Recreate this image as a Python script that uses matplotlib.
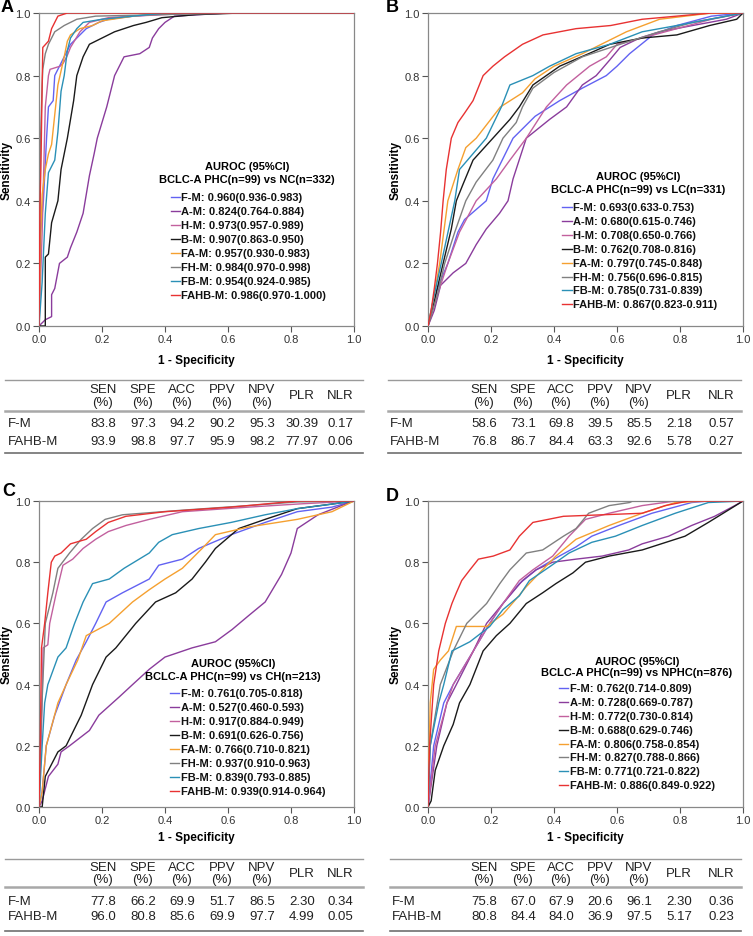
import numpy as np
import matplotlib.pyplot as plt

plt.rcParams['font.family'] = ['Liberation Sans', 'DejaVu Sans']

models = ['F-M', 'A-M', 'H-M', 'B-M', 'FA-M', 'FH-M', 'FB-M', 'FAHB-M']
colors = ['#6262f2', '#8a3c9c', '#c2609e', '#1a1a1a', '#f5a030', '#808080', '#2a90b6', '#e83232']

# ROC points (1 - specificity, sensitivity)
a_fm = [(0, 0), (0.005, 0.3), (0.014, 0.4), (0.024, 0.6), (0.03, 0.7), (0.045, 0.72), (0.05, 0.8), (0.07, 0.84),
        (0.09, 0.88), (0.1, 0.9), (0.13, 0.93), (0.15, 0.95), (0.19, 0.97), (0.22, 0.98), (0.3, 0.99), (0.45, 1), (1, 1)]
a_am = [(0, 0), (0.01, 0.01), (0.02, 0.02), (0.04, 0.03), (0.04, 0.1), (0.05, 0.12), (0.065, 0.2), (0.09, 0.22),
        (0.1, 0.25), (0.12, 0.3), (0.14, 0.36), (0.15, 0.42), (0.16, 0.48), (0.175, 0.55), (0.185, 0.6), (0.2, 0.65),
        (0.215, 0.7), (0.23, 0.76), (0.24, 0.8), (0.26, 0.84), (0.27, 0.86), (0.32, 0.87), (0.35, 0.89), (0.36, 0.92),
        (0.38, 0.95), (0.4, 0.97), (0.43, 0.99), (0.6, 1), (1, 1)]
a_hm = [(0, 0), (0.01, 0.3), (0.015, 0.5), (0.02, 0.7), (0.03, 0.8), (0.035, 0.82), (0.067, 0.83), (0.077, 0.84),
        (0.088, 0.86), (0.1, 0.89), (0.13, 0.94), (0.16, 0.97), (0.22, 0.985), (0.3, 0.99), (0.5, 1), (1, 1)]
a_bm = [(0, 0), (0.02, 0), (0.02, 0.22), (0.03, 0.23), (0.04, 0.33), (0.06, 0.4), (0.07, 0.5), (0.09, 0.6),
        (0.11, 0.72), (0.12, 0.8), (0.14, 0.86), (0.16, 0.9), (0.2, 0.92), (0.24, 0.94), (0.3, 0.96), (0.34, 0.97),
        (0.39, 0.985), (0.5, 0.995), (0.64, 1), (1, 1)]
a_fa = [(0, 0), (0.005, 0.28), (0.01, 0.42), (0.02, 0.5), (0.03, 0.55), (0.04, 0.58), (0.06, 0.77), (0.08, 0.86),
        (0.09, 0.91), (0.1, 0.93), (0.13, 0.95), (0.17, 0.96), (0.2, 0.975), (0.3, 0.99), (0.4, 1), (1, 1)]
a_fh = [(0, 0), (0.005, 0.6), (0.01, 0.77), (0.012, 0.82), (0.02, 0.87), (0.03, 0.9), (0.05, 0.94), (0.08, 0.96),
        (0.12, 0.98), (0.18, 0.99), (0.4, 0.995), (0.64, 1), (1, 1)]
a_fb = [(0, 0), (0.01, 0.14), (0.02, 0.36), (0.03, 0.49), (0.05, 0.53), (0.06, 0.62), (0.07, 0.75), (0.08, 0.8),
        (0.09, 0.88), (0.1, 0.92), (0.12, 0.95), (0.14, 0.97), (0.2, 0.98), (0.3, 0.99), (0.4, 1), (1, 1)]
a_fahb = [(0, 0), (0.003, 0.38), (0.006, 0.5), (0.01, 0.77), (0.012, 0.89), (0.03, 0.91), (0.04, 0.95),
          (0.05, 0.97), (0.06, 0.99), (0.09, 1), (1, 1)]

b_fm = [(0, 0), (0.03, 0.12), (0.063, 0.2), (0.095, 0.3), (0.116, 0.34), (0.185, 0.4), (0.206, 0.47), (0.27, 0.6),
        (0.34, 0.67), (0.418, 0.72), (0.49, 0.76), (0.566, 0.8), (0.6, 0.83), (0.64, 0.87), (0.714, 0.93),
        (0.79, 0.96), (0.9, 0.99), (1, 1)]
b_am = [(0, 0), (0.02, 0.05), (0.04, 0.13), (0.08, 0.17), (0.12, 0.2), (0.153, 0.26), (0.185, 0.31), (0.227, 0.36),
        (0.254, 0.4), (0.27, 0.47), (0.312, 0.6), (0.386, 0.66), (0.44, 0.7), (0.49, 0.77), (0.534, 0.8),
        (0.577, 0.85), (0.61, 0.89), (0.672, 0.92), (0.735, 0.94), (0.84, 0.96), (0.947, 0.98), (1, 1)]
b_hm = [(0, 0), (0.03, 0.1), (0.063, 0.2), (0.1, 0.3), (0.153, 0.4), (0.217, 0.47), (0.26, 0.53), (0.312, 0.6),
        (0.376, 0.7), (0.44, 0.77), (0.513, 0.83), (0.566, 0.86), (0.6, 0.9), (0.68, 0.92), (0.79, 0.95),
        (0.9, 0.98), (1, 1)]
b_bm = [(0, 0), (0.02, 0.08), (0.048, 0.2), (0.074, 0.31), (0.09, 0.4), (0.11, 0.45), (0.143, 0.53), (0.206, 0.6),
        (0.26, 0.66), (0.29, 0.7), (0.333, 0.77), (0.418, 0.83), (0.51, 0.87), (0.577, 0.9), (0.68, 0.92),
        (0.79, 0.93), (0.894, 0.96), (0.98, 0.98), (1, 1)]
b_fa = [(0, 0), (0.02, 0.1), (0.037, 0.2), (0.063, 0.4), (0.095, 0.5), (0.12, 0.57), (0.153, 0.6), (0.23, 0.7),
        (0.3, 0.745), (0.34, 0.79), (0.4, 0.83), (0.49, 0.87), (0.63, 0.94), (0.735, 0.98), (0.9, 1), (1, 1)]
b_fh = [(0, 0), (0.03, 0.1), (0.053, 0.2), (0.085, 0.3), (0.12, 0.4), (0.153, 0.46), (0.206, 0.53), (0.238, 0.6),
        (0.28, 0.65), (0.3, 0.7), (0.333, 0.76), (0.4, 0.81), (0.49, 0.86), (0.61, 0.9), (0.735, 0.94),
        (0.84, 0.97), (1, 1)]
b_fb = [(0, 0), (0.02, 0.1), (0.042, 0.2), (0.085, 0.4), (0.1, 0.5), (0.185, 0.6), (0.233, 0.7), (0.26, 0.77),
        (0.333, 0.8), (0.386, 0.83), (0.47, 0.87), (0.577, 0.9), (0.68, 0.94), (0.79, 0.96), (1, 1)]
b_fahb = [(0, 0), (0.01, 0.05), (0.02, 0.12), (0.03, 0.2), (0.04, 0.3), (0.048, 0.4), (0.058, 0.5), (0.074, 0.6),
          (0.095, 0.65), (0.116, 0.68), (0.143, 0.72), (0.175, 0.8), (0.206, 0.83), (0.243, 0.86), (0.3, 0.9),
          (0.365, 0.93), (0.47, 0.95), (0.58, 0.96), (0.68, 0.98), (0.79, 0.99), (0.9, 1), (1, 1)]

c_fm = [(0, 0), (0.01, 0.05), (0.023, 0.2), (0.05, 0.3), (0.086, 0.4), (0.118, 0.48), (0.15, 0.54), (0.18, 0.6),
        (0.213, 0.67), (0.265, 0.7), (0.35, 0.745), (0.38, 0.79), (0.455, 0.81), (0.507, 0.845), (0.61, 0.89),
        (0.718, 0.93), (0.82, 0.965), (0.93, 0.98), (1, 1)]
c_am = [(0, 0), (0.01, 0.02), (0.03, 0.1), (0.06, 0.14), (0.07, 0.18), (0.097, 0.2), (0.16, 0.25), (0.19, 0.3),
        (0.255, 0.36), (0.297, 0.4), (0.35, 0.45), (0.4, 0.49), (0.486, 0.52), (0.56, 0.54), (0.613, 0.58),
        (0.665, 0.625), (0.718, 0.67), (0.77, 0.76), (0.8, 0.83), (0.82, 0.91), (0.886, 0.955), (0.96, 0.985), (1, 1)]
c_hm = [(0, 0), (0.007, 0.2), (0.013, 0.52), (0.028, 0.53), (0.034, 0.6), (0.055, 0.7), (0.076, 0.79),
        (0.107, 0.81), (0.14, 0.845), (0.18, 0.875), (0.22, 0.9), (0.276, 0.92), (0.35, 0.94), (0.455, 0.965),
        (0.665, 0.98), (0.82, 0.99), (1, 1)]
c_bm = [(0, 0), (0.01, 0), (0.02, 0.1), (0.06, 0.18), (0.086, 0.2), (0.134, 0.3), (0.17, 0.4), (0.213, 0.49),
        (0.244, 0.52), (0.307, 0.6), (0.37, 0.67), (0.434, 0.7), (0.486, 0.745), (0.528, 0.8), (0.56, 0.845),
        (0.634, 0.91), (0.718, 0.94), (0.82, 0.975), (0.93, 0.99), (1, 1)]
c_fa = [(0, 0), (0.01, 0.05), (0.023, 0.2), (0.06, 0.34), (0.086, 0.4), (0.123, 0.48), (0.15, 0.56),
        (0.223, 0.6), (0.297, 0.67), (0.35, 0.71), (0.4, 0.745), (0.455, 0.78), (0.518, 0.845), (0.56, 0.89),
        (0.665, 0.915), (0.82, 0.94), (0.93, 0.965), (1, 1)]
c_fh = [(0, 0), (0.004, 0.2), (0.02, 0.6), (0.044, 0.7), (0.06, 0.78), (0.097, 0.83), (0.134, 0.875),
        (0.17, 0.91), (0.21, 0.94), (0.265, 0.955), (0.455, 0.97), (0.665, 0.985), (0.82, 0.997), (1, 1)]
c_fb = [(0, 0), (0.005, 0.1), (0.01, 0.2), (0.018, 0.34), (0.028, 0.4), (0.06, 0.49), (0.086, 0.52),
        (0.113, 0.6), (0.14, 0.67), (0.17, 0.73), (0.223, 0.745), (0.27, 0.78), (0.35, 0.83), (0.38, 0.865),
        (0.423, 0.89), (0.507, 0.91), (0.61, 0.93), (0.718, 0.955), (0.82, 0.975), (0.93, 0.99), (1, 1)]
c_fahb = [(0, 0), (0.004, 0.2), (0.008, 0.52), (0.018, 0.6), (0.028, 0.7), (0.039, 0.8), (0.05, 0.82),
          (0.07, 0.83), (0.1, 0.86), (0.15, 0.875), (0.18, 0.9), (0.22, 0.93), (0.276, 0.95), (0.4, 0.965),
          (0.61, 0.98), (0.82, 1), (1, 1)]

d_fm = [(0, 0), (0.018, 0.2), (0.05, 0.34), (0.08, 0.4), (0.144, 0.51), (0.196, 0.6), (0.238, 0.665),
        (0.29, 0.73), (0.343, 0.775), (0.417, 0.82), (0.47, 0.85), (0.52, 0.885), (0.606, 0.92), (0.711, 0.96),
        (0.837, 0.995), (0.89, 1), (1, 1)]
d_am = [(0, 0), (0.028, 0.2), (0.06, 0.34), (0.09, 0.4), (0.144, 0.51), (0.186, 0.6), (0.238, 0.665),
        (0.3, 0.74), (0.343, 0.775), (0.396, 0.8), (0.47, 0.81), (0.553, 0.82), (0.637, 0.84), (0.68, 0.86),
        (0.764, 0.885), (0.837, 0.92), (0.91, 0.95), (0.974, 0.985), (1, 1)]
d_hm = [(0, 0), (0.023, 0.2), (0.06, 0.34), (0.08, 0.4), (0.144, 0.51), (0.196, 0.6), (0.238, 0.665),
        (0.29, 0.74), (0.333, 0.775), (0.396, 0.82), (0.448, 0.885), (0.5, 0.94), (0.575, 0.96), (0.68, 0.985),
        (0.785, 1), (1, 1)]
d_bm = [(0, 0), (0.01, 0.02), (0.023, 0.12), (0.05, 0.2), (0.08, 0.27), (0.1, 0.34), (0.133, 0.4),
        (0.175, 0.51), (0.217, 0.56), (0.26, 0.6), (0.312, 0.665), (0.364, 0.7), (0.406, 0.73), (0.46, 0.765),
        (0.5, 0.8), (0.575, 0.82), (0.68, 0.84), (0.816, 0.885), (0.89, 0.93), (0.953, 0.97), (1, 1)]
d_fa = [(0, 0), (0.004, 0.2), (0.007, 0.34), (0.018, 0.45), (0.039, 0.48), (0.065, 0.51), (0.09, 0.59),
        (0.186, 0.59), (0.238, 0.63), (0.28, 0.68), (0.312, 0.72), (0.354, 0.765), (0.406, 0.82), (0.47, 0.875),
        (0.575, 0.92), (0.68, 0.96), (0.785, 0.995), (0.89, 1), (1, 1)]
d_fh = [(0, 0), (0.007, 0.2), (0.039, 0.4), (0.08, 0.51), (0.123, 0.6), (0.186, 0.665), (0.228, 0.73),
        (0.26, 0.775), (0.312, 0.83), (0.364, 0.84), (0.43, 0.885), (0.47, 0.91), (0.51, 0.96), (0.575, 0.985),
        (0.64, 0.995), (0.65, 1), (1, 1)]
d_fb = [(0, 0), (0.007, 0.2), (0.034, 0.34), (0.05, 0.4), (0.076, 0.51), (0.133, 0.54), (0.196, 0.59),
        (0.238, 0.645), (0.29, 0.69), (0.322, 0.74), (0.386, 0.785), (0.448, 0.83), (0.52, 0.865), (0.595, 0.885),
        (0.68, 0.92), (0.785, 0.96), (0.89, 0.995), (1, 1)]
d_fahb = [(0, 0), (0.005, 0.2), (0.018, 0.4), (0.034, 0.51), (0.055, 0.6), (0.076, 0.665), (0.09, 0.7),
          (0.107, 0.74), (0.133, 0.775), (0.16, 0.81), (0.207, 0.82), (0.26, 0.84), (0.29, 0.885), (0.333, 0.93),
          (0.43, 0.95), (0.68, 0.96), (0.753, 0.985), (0.827, 1), (1, 1)]

curves_a = [a_fm, a_am, a_hm, a_bm, a_fa, a_fh, a_fb, a_fahb]
curves_b = [b_fm, b_am, b_hm, b_bm, b_fa, b_fh, b_fb, b_fahb]
curves_c = [c_fm, c_am, c_hm, c_bm, c_fa, c_fh, c_fb, c_fahb]
curves_d = [d_fm, d_am, d_hm, d_bm, d_fa, d_fh, d_fb, d_fahb]

auc_a = ['0.960(0.936-0.983)', '0.824(0.764-0.884)', '0.973(0.957-0.989)', '0.907(0.863-0.950)',
         '0.957(0.930-0.983)', '0.984(0.970-0.998)', '0.954(0.924-0.985)', '0.986(0.970-1.000)']
auc_b = ['0.693(0.633-0.753)', '0.680(0.615-0.746)', '0.708(0.650-0.766)', '0.762(0.708-0.816)',
         '0.797(0.745-0.848)', '0.756(0.696-0.815)', '0.785(0.731-0.839)', '0.867(0.823-0.911)']
auc_c = ['0.761(0.705-0.818)', '0.527(0.460-0.593)', '0.917(0.884-0.949)', '0.691(0.626-0.756)',
         '0.766(0.710-0.821)', '0.937(0.910-0.963)', '0.839(0.793-0.885)', '0.939(0.914-0.964)']
auc_d = ['0.762(0.714-0.809)', '0.728(0.669-0.787)', '0.772(0.730-0.814)', '0.688(0.629-0.746)',
         '0.806(0.758-0.854)', '0.827(0.788-0.866)', '0.771(0.721-0.822)', '0.886(0.849-0.922)']

subtitles = ['BCLC-A PHC(n=99) vs NC(n=332)', 'BCLC-A PHC(n=99) vs LC(n=331)',
             'BCLC-A PHC(n=99) vs CH(n=213)', 'BCLC-A PHC(n=99) vs NPHC(n=876)']

tab_cols = ['SEN', 'SPE', 'ACC', 'PPV', 'NPV', 'PLR', 'NLR']
tab_rows = ['F-M', 'FAHB-M']
tab_a = [['83.8', '97.3', '94.2', '90.2', '95.3', '30.39', '0.17'],
         ['93.9', '98.8', '97.7', '95.9', '98.2', '77.97', '0.06']]
tab_b = [['58.6', '73.1', '69.8', '39.5', '85.5', '2.18', '0.57'],
         ['76.8', '86.7', '84.4', '63.3', '92.6', '5.78', '0.27']]
tab_c = [['77.8', '66.2', '69.9', '51.7', '86.5', '2.30', '0.34'],
         ['96.0', '80.8', '85.6', '69.9', '97.7', '4.99', '0.05']]
tab_d = [['75.8', '67.0', '67.9', '20.6', '96.1', '2.30', '0.36'],
         ['80.8', '84.4', '84.0', '36.9', '97.5', '5.17', '0.23']]

W, H = 753, 937
fig = plt.figure(figsize=(W / 100, H / 100), dpi=100)

# panel boxes in pixels: left, top, width, height
boxes = [(39, 14, 315, 313), (428, 14, 315, 313), (39, 502, 315, 306), (428, 502, 315, 306)]
xlabel_pad = [7, 7, 4, 4]
letters = ['A', 'B', 'C', 'D']
letter_pos = [(1, 8), (386, 8), (2, 492), (386, 497)]
# legend layout: title x, title y, subtitle y, text x, first entry y, step
leg = [(0.66, 0.511, 0.470, 0.452, 0.412, 0.0448),
       (0.667, 0.479, 0.438, 0.46, 0.380, 0.0444),
       (0.616, 0.471, 0.428, 0.45, 0.373, 0.0457),
       (0.663, 0.477, 0.441, 0.45, 0.389, 0.0454)]
all_curves = [curves_a, curves_b, curves_c, curves_d]
all_auc = [auc_a, auc_b, auc_c, auc_d]

for k in range(4):
    l, t, w, h = boxes[k]
    ax = fig.add_axes([l / W, 1 - (t + h) / H, w / W, h / H])
    for i, pts in enumerate(all_curves[k]):
        xs = [p[0] for p in pts]
        ys = [p[1] for p in pts]
        ax.plot(xs, ys, color=colors[i], lw=1.0, zorder=3 + (i == 7))
    ax.set_xlim(0, 1)
    ax.set_ylim(0, 1)
    ticks = np.arange(0, 1.01, 0.2)
    ax.set_xticks(ticks)
    ax.set_yticks(ticks)
    ax.set_xticklabels(['%.1f' % v for v in ticks])
    ax.set_yticklabels(['%.1f' % v for v in ticks])
    ax.tick_params(labelsize=8, colors='#555555', labelcolor='#333333', length=4, width=0.8, pad=2)
    for s in ax.spines.values():
        s.set_color('#888888')
        s.set_linewidth(0.9)
    ax.set_xlabel('1 - Specificity', fontsize=8.5, fontweight='bold', labelpad=xlabel_pad[k])
    ax.set_ylabel('Sensitivity', fontsize=8.5, fontweight='bold')
    ax.yaxis.set_label_coords(-0.084, 0.5)
    tx, ty, sy, lx, ey, st = leg[k]
    ax.text(tx, ty, 'AUROC (95%CI)', transform=ax.transAxes, ha='center', va='center',
            fontsize=8, fontweight='bold')
    ax.text(tx, sy, subtitles[k], transform=ax.transAxes, ha='center', va='center',
            fontsize=8, fontweight='bold')
    for i, m in enumerate(models):
        y = ey - i * st
        ax.plot([lx - 0.034, lx - 0.004], [y, y], transform=ax.transAxes, color=colors[i], lw=1.0,
                clip_on=False)
        ax.text(lx, y, m + ': ' + all_auc[k][i], transform=ax.transAxes, ha='left', va='center',
                fontsize=8, fontweight='bold', color='#111111')
    lx0, ly0 = letter_pos[k]
    fig.text(lx0 / W, 1 - ly0 / H, letters[k], fontsize=13, fontweight='bold', va='center', ha='left')

# tables drawn on an overlay in pixel units
ov = fig.add_axes([0, 0, 1, 1])
ov.set_xlim(0, W)
ov.set_ylim(H, 0)
ov.axis('off')

tables = [tab_a, tab_b, tab_c, tab_d]
# x of row label, column centres, line span
tab_x = [(8, [103, 143, 182, 222, 262, 302, 340], 5, 363),
         (390, [484, 523, 561, 600, 639, 679, 721], 388, 741),
         (8, [103, 143, 182, 222, 262, 302, 340], 5, 363),
         (392, [484, 523, 561, 600, 639, 679, 721], 390, 741)]
# top line, header lines, header rule, row ys, bottom line
tab_y = [(381, 390, 403, 412, [424, 442], 454),
         (381, 390, 403, 412, [424, 442], 454),
         (860, 868, 880, 888, [902, 917], 932),
         (860, 868, 880, 888, [902, 917], 932)]
fs = 9.5
for k in range(4):
    rx, cx, x0, x1 = tab_x[k]
    yt, yh1, yh2, yr, rows_y, yb = tab_y[k]
    ov.plot([x0, x1], [yt, yt], color='#9a9a9a', lw=1.0)
    ov.plot([x0, x1], [yr, yr], color='#a8a8a8', lw=1.8)
    ov.plot([x0, x1], [yb, yb], color='#707070', lw=1.2)
    for j, c in enumerate(tab_cols):
        if c in ('PLR', 'NLR'):
            ov.text(cx[j], (yh1 + yh2) / 2, c, ha='center', va='center', fontsize=fs, color='#222222')
        else:
            ov.text(cx[j], yh1, c, ha='center', va='center', fontsize=fs, color='#222222')
            ov.text(cx[j], yh2, '(%)', ha='center', va='center', fontsize=fs, color='#222222')
    for r, name in enumerate(tab_rows):
        ov.text(rx, rows_y[r], name, ha='left', va='center', fontsize=fs, color='#222222')
        for j, v in enumerate(tables[k][r]):
            ov.text(cx[j], rows_y[r], v, ha='center', va='center', fontsize=fs, color='#222222')

fig.savefig('out.png', dpi=100, facecolor='white')
